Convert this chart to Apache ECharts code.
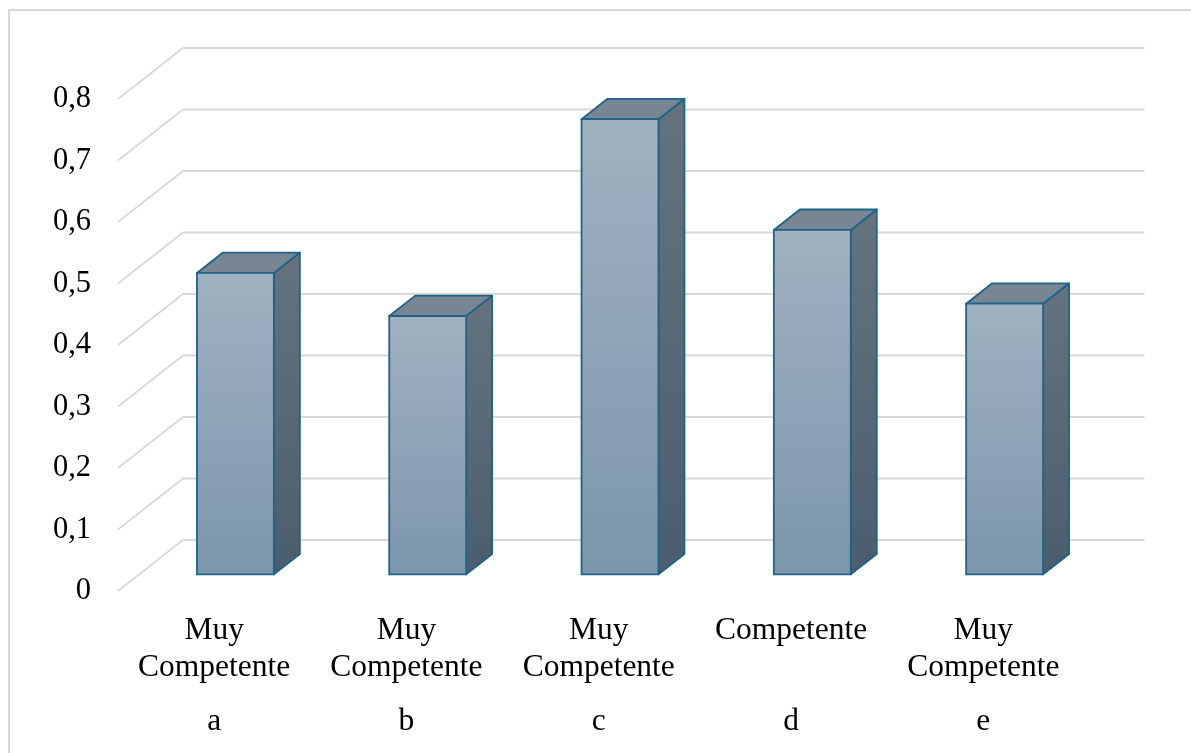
<!DOCTYPE html>
<html>
<head>
<meta charset="utf-8">
<script src="https://cdn.jsdelivr.net/npm/echarts@6/dist/echarts.min.js"></script>
<style>
html,body{margin:0;padding:0;background:#fff;}
#chart{width:1191px;height:753px;}
</style>
</head>
<body>
<div id="chart"></div>
<script>
// ---- data ----
const categories = ['a', 'b', 'c', 'd', 'e'];
const levels = ['Muy\nCompetente', 'Muy\nCompetente', 'Muy\nCompetente', 'Competente', 'Muy\nCompetente'];
const values = [0.49, 0.42, 0.74, 0.56, 0.44];
const yTicks = [0, 0.1, 0.2, 0.3, 0.4, 0.5, 0.6, 0.7, 0.8];

// ---- 3D look ----
const DX = 65, DY = 51;         // depth offset of back wall
const D1 = 0.327, D2 = 0.727;   // bar depth (front / back) as fraction
const BAR_W = 0.4;              // bar width as fraction of band

const chart = echarts.init(document.getElementById('chart'));

function proj(x, y, d) {
  return [x + d * DX, y - d * DY];
}

const option = {
  backgroundColor: '#fff',
  animation: false,
  graphic: [{
    type: 'rect',
    shape: { x: 9, y: 10, width: 1200, height: 760 },
    style: { fill: 'none', stroke: '#d9d9d9', lineWidth: 2 },
    silent: true, z: -10
  }],
  grid: { left: 118, right: 111.5, top: 99, bottom: 162 },
  xAxis: [{
    type: 'category',
    data: levels,
    boundaryGap: true,
    axisLine: { show: false },
    axisTick: { show: false },
    splitLine: { show: false },
    axisLabel: {
      interval: 0, margin: 21,
      fontFamily: 'Liberation Serif', fontSize: 31.5, lineHeight: 37,
      color: '#000', align: 'center'
    }
  }, {
    type: 'category',
    data: categories,
    position: 'bottom',
    boundaryGap: true,
    axisLine: { show: false },
    axisTick: { show: false },
    splitLine: { show: false },
    axisLabel: {
      interval: 0, margin: 112,
      fontFamily: 'Liberation Serif', fontSize: 31.5, lineHeight: 37,
      color: '#000'
    }
  }],
  yAxis: {
    type: 'value',
    min: 0, max: 0.8, interval: 0.1,
    axisLine: { show: false },
    axisTick: { show: false },
    splitLine: { show: false },
    axisLabel: {
      margin: 27,
      fontFamily: 'Liberation Serif', fontSize: 30.5, color: '#000',
      formatter: v => String(Math.round(v * 10) / 10).replace('.', ',')
    }
  },
  series: [{
    type: 'custom',
    name: 'grid',
    clip: false,
    silent: true,
    z: 1,
    data: yTicks.map(v => [0, v]),
    renderItem: function (params, api) {
      const cs = params.coordSys;
      const y = api.coord([0, api.value(1)])[1];
      const x0 = cs.x, x1 = cs.x + cs.width;
      return {
        type: 'polyline',
        shape: { points: [[x0, y], [x0 + DX, y - DY], [x1 + DX, y - DY]] },
        style: { fill: 'none', stroke: '#d9d9d9', lineWidth: 1.8 }
      };
    }
  }, {
    type: 'custom',
    name: 'bars',
    clip: false,
    z: 5,
    data: values.map((v, i) => [i, v]),
    renderItem: function (params, api) {
      const i = api.value(0), v = api.value(1);
      const base = api.coord([i, 0]);
      const top = api.coord([i, v]);
      const band = api.size([1, 0])[0];
      const hw = band * BAR_W / 2;
      const xl = base[0] - hw, xr = base[0] + hw;
      const yb = base[1], yt = top[1];
      const stroke = '#1f6388';
      const lw = 1.8;
      const fTL = proj(xl, yt, D1), fBR = proj(xr, yb, D1);
      const fTR = proj(xr, yt, D1);
      const bTL = proj(xl, yt, D2), bTR = proj(xr, yt, D2), bBR = proj(xr, yb, D2);
      return {
        type: 'group',
        children: [{
          type: 'polygon',
          shape: { points: [fTR, fBR, bBR, bTR] },
          style: {
            fill: new echarts.graphic.LinearGradient(0, 0, 0, 1, [
              { offset: 0, color: '#66737f' }, { offset: 1, color: '#4b5d6c' }
            ]),
            stroke: stroke, lineWidth: lw, lineJoin: 'round'
          }
        }, {
          type: 'polygon',
          shape: { points: [fTL, fTR, bTR, bTL] },
          style: { fill: '#788592', stroke: stroke, lineWidth: lw, lineJoin: 'round' }
        }, {
          type: 'rect',
          shape: { x: fTL[0], y: fTL[1], width: fBR[0] - fTL[0], height: fBR[1] - fTL[1] },
          style: {
            fill: new echarts.graphic.LinearGradient(0, 0, 0, 1, [
              { offset: 0, color: '#a0b1c0' }, { offset: 0.5, color: '#8fa3b7' }, { offset: 1, color: '#7b96ad' }
            ]),
            stroke: stroke, lineWidth: lw
          }
        }]
      };
    }
  }]
};
chart.setOption(option);
</script>
</body>
</html>
